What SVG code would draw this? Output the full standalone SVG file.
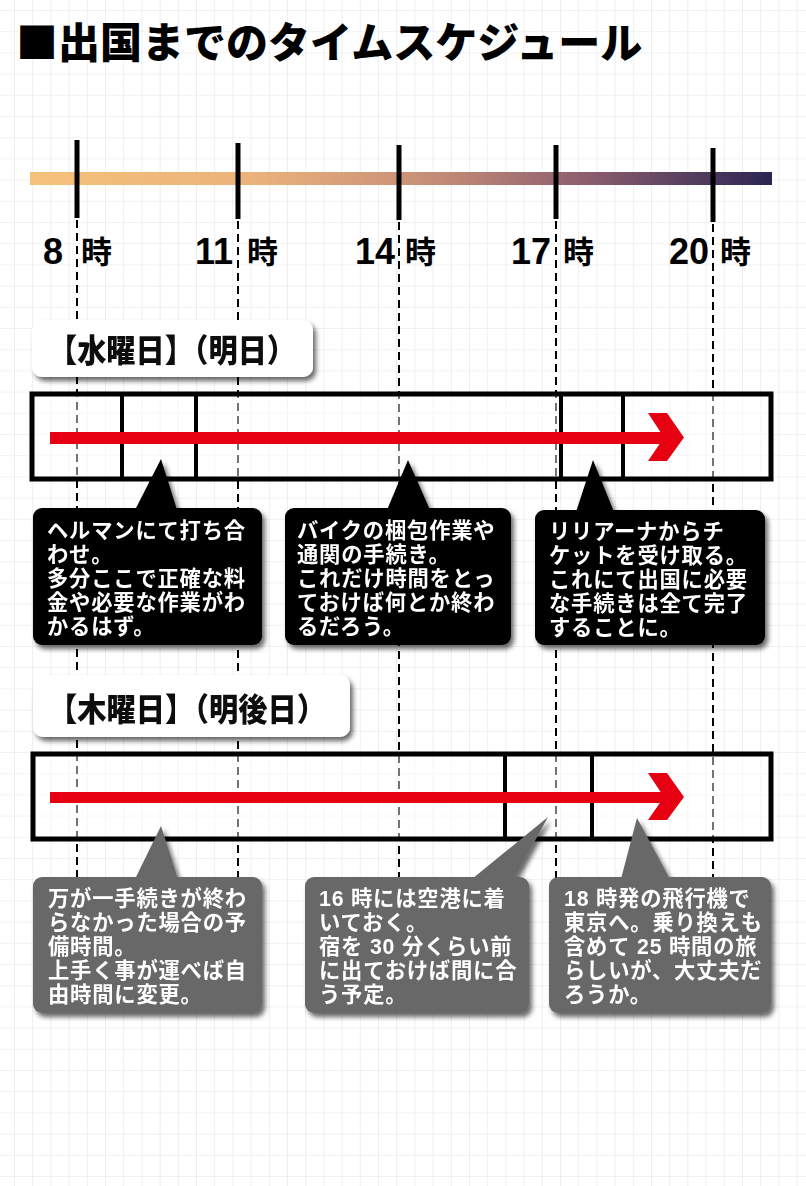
<svg xmlns="http://www.w3.org/2000/svg" width="806" height="1186" viewBox="0 0 806 1186">
<defs>
<pattern id="grid" x="14" y="10" width="18.2" height="21.2" patternUnits="userSpaceOnUse">
<path d="M0 0V21.2M0 0H18.2" fill="none" stroke="#e4e4e4" stroke-width="1.2"/>
</pattern>
<linearGradient id="tl" x1="0" y1="0" x2="1" y2="0">
<stop offset="0" stop-color="#f5c27b"/>
<stop offset="0.3" stop-color="#ebb27a"/>
<stop offset="0.55" stop-color="#c48c77"/>
<stop offset="0.75" stop-color="#8c5e6e"/>
<stop offset="1" stop-color="#2b2652"/>
</linearGradient>
<filter id="sh" x="-10%" y="-10%" width="125%" height="130%">
<feDropShadow dx="3" dy="4" stdDeviation="2.5" flood-color="#000" flood-opacity="0.6"/>
</filter>
</defs>
<style>
.title{font-family:"Noto Sans CJK JP",sans-serif;font-weight:900;font-size:42px;fill:#000}
.num{font-family:"Liberation Sans",Arial,sans-serif;font-weight:700;font-size:36px;fill:#000}
.ji{font-family:"Noto Sans CJK JP",sans-serif;font-weight:700;font-size:31px;fill:#000}
.day{font-family:"Noto Sans CJK JP",serif;font-weight:900;font-size:32px;fill:#111}
.ct{font-family:"Liberation Sans","Noto Sans CJK JP",sans-serif;font-weight:700;font-size:21.3px;letter-spacing:0.8px;fill:#fff}
.tick{stroke:#000;stroke-width:5}
.guide{stroke:#000;stroke-width:2;stroke-dasharray:8 5;fill:none}
.row{fill:#fff;fill-opacity:0.45;stroke:#000;stroke-width:5}
.div{stroke:#000;stroke-width:4}
.red{fill:#e60012}
.blk{fill:#000}
.gry{fill:#676767}
.lbl{fill:#fff}
</style>
<rect width="806" height="1186" fill="#fff"/>
<rect width="806" height="1186" fill="url(#grid)"/>

<g id="title">
<text class="title" x="16" y="58">■出国までのタイムスケジュール</text>
</g>

<g id="timeline">
<rect x="30" y="172" width="742" height="13" fill="url(#tl)"/>
<line class="tick" x1="77" y1="140" x2="77" y2="218"/>
<line class="tick" x1="238" y1="143" x2="238" y2="219"/>
<line class="tick" x1="399" y1="145" x2="399" y2="220"/>
<line class="tick" x1="556" y1="145" x2="556" y2="219"/>
<line class="tick" x1="713" y1="148" x2="713" y2="222"/>
<text class="num" x="63" y="264" text-anchor="end">8</text><text class="ji" x="81" y="263">時</text>
<text class="num" x="233" y="264" text-anchor="end">11</text><text class="ji" x="247" y="263">時</text>
<text class="num" x="395" y="264" text-anchor="end">14</text><text class="ji" x="405" y="263">時</text>
<text class="num" x="551" y="264" text-anchor="end">17</text><text class="ji" x="563" y="263">時</text>
<text class="num" x="709" y="264" text-anchor="end">20</text><text class="ji" x="720" y="263">時</text>
</g>

<g id="guides">
<line class="guide" x1="77" y1="220" x2="77" y2="1000"/>
<line class="guide" x1="238" y1="221" x2="238" y2="1000"/>
<line class="guide" x1="399" y1="222" x2="399" y2="1000"/>
<line class="guide" x1="556" y1="221" x2="556" y2="1000"/>
<line class="guide" x1="713" y1="224" x2="713" y2="1000"/>
</g>

<g id="row-wed">
<rect class="row" x="32" y="394" width="739" height="85"/>
<line class="div" x1="122" y1="394" x2="122" y2="479"/>
<line class="div" x1="196" y1="394" x2="196" y2="479"/>
<line class="div" x1="561" y1="394" x2="561" y2="479"/>
<line class="div" x1="623" y1="394" x2="623" y2="479"/>
</g>

<g id="row-thu">
<rect class="row" x="33" y="754" width="738" height="85"/>
<line class="div" x1="505" y1="754" x2="505" y2="839"/>
<line class="div" x1="592" y1="754" x2="592" y2="839"/>
</g>

<g id="connectors">
<rect class="red" x="50" y="432" width="620" height="12"/>
<polygon class="red" points="648,413 667,413 684,437.5 667,461 648,461 664,437.5"/>
<rect class="red" x="50" y="792" width="620" height="11"/>
<polygon class="red" points="648,773 667,773 684,797 667,820 648,820 664,797"/>
</g>

<g id="label-wed" filter="url(#sh)">
<rect class="lbl" x="32" y="320" width="281" height="57" rx="10"/>
<text class="day" x="48" y="362" textLength="248" lengthAdjust="spacingAndGlyphs">【水曜日】（明日）</text>
</g>

<g id="label-thu" filter="url(#sh)">
<rect class="lbl" x="33" y="675" width="317" height="62" rx="10"/>
<text class="day" x="48" y="721" textLength="278" lengthAdjust="spacingAndGlyphs">【木曜日】（明後日）</text>
</g>

<g id="callout-w1" filter="url(#sh)">
<rect class="blk" x="33" y="508" width="229" height="137" rx="9"/>
<polygon class="blk" points="135,510 177,510 161,459"/>
<text class="ct"><tspan x="47" y="538">ヘルマンにて打ち合</tspan><tspan x="47" y="562">わせ。</tspan><tspan x="47" y="586">多分ここで正確な料</tspan><tspan x="47" y="610">金や必要な作業がわ</tspan><tspan x="47" y="634">かるはず。</tspan></text>
</g>

<g id="callout-w2" filter="url(#sh)">
<rect class="blk" x="285" y="508" width="226" height="137" rx="9"/>
<polygon class="blk" points="387,510 430,510 408,460"/>
<text class="ct"><tspan x="297" y="538">バイクの梱包作業や</tspan><tspan x="297" y="562">通関の手続き。</tspan><tspan x="297" y="586">これだけ時間をとっ</tspan><tspan x="297" y="610">ておけば何とか終わ</tspan><tspan x="297" y="634">るだろう。</tspan></text>
</g>

<g id="callout-w3" filter="url(#sh)">
<rect class="blk" x="535" y="510" width="230" height="135" rx="9"/>
<polygon class="blk" points="576,512 614,512 593,460"/>
<text class="ct"><tspan x="549" y="539">リリアーナからチ</tspan><tspan x="549" y="563">ケットを受け取る。</tspan><tspan x="549" y="587">これにて出国に必要</tspan><tspan x="549" y="611">な手続きは全て完了</tspan><tspan x="549" y="635">することに。</tspan></text>
</g>

<g id="callout-t1" filter="url(#sh)">
<rect class="gry" x="33" y="877" width="229" height="136" rx="9"/>
<polygon class="gry" points="135,879 178,879 161,826"/>
<text class="ct"><tspan x="48" y="906">万が一手続きが終わ</tspan><tspan x="48" y="930">らなかった場合の予</tspan><tspan x="48" y="954">備時間。</tspan><tspan x="48" y="978">上手く事が運べば自</tspan><tspan x="48" y="1002">由時間に変更。</tspan></text>
</g>

<g id="callout-t2" filter="url(#sh)">
<rect class="gry" x="305" y="877" width="224" height="136" rx="9"/>
<polygon class="gry" points="472,879 514,879 548,817"/>
<text class="ct"><tspan x="319" y="906">16 時には空港に着</tspan><tspan x="319" y="930">いておく。</tspan><tspan x="319" y="954">宿を 30 分くらい前</tspan><tspan x="319" y="978">に出ておけば間に合</tspan><tspan x="319" y="1002">う予定。</tspan></text>
</g>

<g id="callout-t3" filter="url(#sh)">
<rect class="gry" x="549" y="877" width="222" height="136" rx="9"/>
<polygon class="gry" points="621,879 670,879 637,818"/>
<text class="ct"><tspan x="564" y="906">18 時発の飛行機で</tspan><tspan x="564" y="930">東京へ。乗り換えも</tspan><tspan x="564" y="954">含めて 25 時間の旅</tspan><tspan x="564" y="978">らしいが、大丈夫だ</tspan><tspan x="564" y="1002">ろうか。</tspan></text>
</g>
</svg>
